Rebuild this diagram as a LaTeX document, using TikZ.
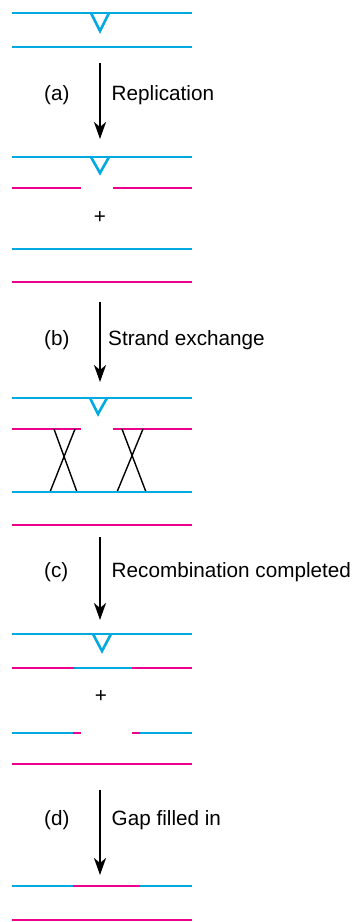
\documentclass[tikz,border=0pt]{standalone}
\usepackage{fontspec}
\setmainfont{Liberation Sans}
\usetikzlibrary{arrows.meta}
\definecolor{dnablue}{RGB}{0,169,224}
\definecolor{dnapink}{RGB}{236,0,140}

\begin{document}
\begin{tikzpicture}[x=1pt, y=-1pt, every node/.style={font=\fontsize{20.7}{24}\selectfont, inner sep=0pt},
	blue strand/.style={dnablue, line width=2.6pt},
	pink strand/.style={dnapink, line width=2.6pt},
	cross/.style={black, line width=1.4pt},
	>={Stealth[length=17pt, width=12pt, inset=5pt]}]
	\useasboundingbox (0,0) rectangle (355,922);
	% stage 0
	\draw[blue strand] (12,13) -- (192,13);
	\draw[blue strand] (91,13) -- (100,31) -- (109,13);
	\draw[blue strand] (12,47) -- (192,47);
	% (a)
	\coordinate (a1) at (100,63);
	\coordinate (a2) at (100,139);
	\draw[->, line width=2pt] (a1) -- (a2);
	\node[anchor=base west] (la) at (44,100) {(a)};
	\node[anchor=base west] (ta) at (111.5,100) {Replication};
	% stage 1
	\draw[blue strand] (12,157) -- (192,157);
	\draw[blue strand] (91,157) -- (100,173) -- (109,157);
	\draw[pink strand] (12,188) -- (81,188) (113,188) -- (192,188);
	\node (plus1) at (100,218) {+};
	\draw[blue strand] (12,249) -- (192,249);
	\draw[pink strand] (12,282) -- (192,282);
	% (b)
	\coordinate (b1) at (100,302);
	\coordinate (b2) at (100,382);
	\draw[->, line width=2pt] (b1) -- (b2);
	\node[anchor=base west] (lb) at (44,345) {(b)};
	\node[anchor=base west] (tb) at (108,345) {Strand exchange};
	% stage 2
	\draw[blue strand] (12,398) -- (192,398);
	\draw[blue strand] (90,398) -- (98,414) -- (107,398);
	\draw[pink strand] (12,429) -- (81,429) (113,429) -- (192,429);
	\draw[cross] (54,429) -- (77,492) (75,429) -- (50,492);
	\draw[cross] (122,429) -- (146,492) (143,429) -- (117,492);
	\draw[blue strand] (12,492) -- (192,492);
	\draw[pink strand] (12,525) -- (192,525);
	% (c)
	\coordinate (c1) at (100,537);
	\coordinate (c2) at (100,620);
	\draw[->, line width=2pt] (c1) -- (c2);
	\node[anchor=base west] (lc) at (44,577) {(c)};
	\node[anchor=base west] (tc) at (111.5,577) {Recombination completed};
	% stage 3
	\draw[blue strand] (12,634) -- (192,634);
	\draw[blue strand] (93,634) -- (102,651) -- (111,634);
	\draw[pink strand] (12,668) -- (74,668) (132,668) -- (192,668);
	\draw[blue strand] (74,668) -- (132,668);
	\node (plus2) at (101,697) {+};
	\draw[blue strand] (12,733) -- (73,733) (140,733) -- (192,733);
	\draw[pink strand] (73,733) -- (81,733) (132,733) -- (140,733);
	\draw[pink strand] (12,764) -- (192,764);
	% (d)
	\coordinate (d1) at (100,790);
	\coordinate (d2) at (100,875);
	\draw[->, line width=2pt] (d1) -- (d2);
	\node[anchor=base west] (ld) at (44,825) {(d)};
	\node[anchor=base west] (td) at (111.5,825) {Gap filled in};
	% stage 4
	\draw[blue strand] (12,886) -- (73,886) (140,886) -- (192,886);
	\draw[pink strand] (73,886) -- (140,886);
	\draw[pink strand] (12,920) -- (192,920);
\end{tikzpicture}
\end{document}
